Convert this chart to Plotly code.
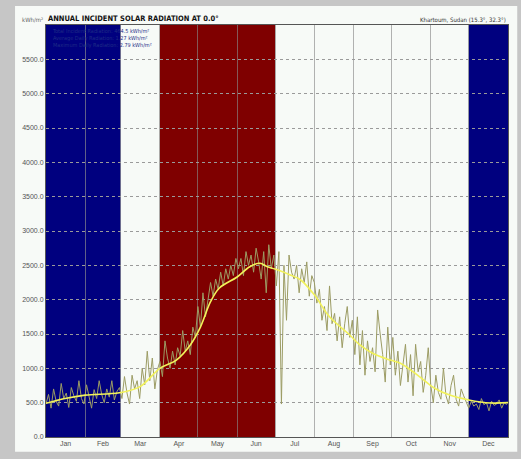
import numpy as np
import plotly.graph_objects as go

# month layout (day of year)
months = ['Jan', 'Feb', 'Mar', 'Apr', 'May', 'Jun', 'Jul', 'Aug', 'Sep', 'Oct', 'Nov', 'Dec']
month_edges = [0, 31, 59, 90, 120, 151, 181, 212, 243, 273, 304, 334, 365]
month_colors = ['#00007f', '#00007f', None, '#7f0000', '#7f0000', '#7f0000',
                None, None, None, None, None, '#00007f']

# daily incident radiation, read every 2nd day, one list per month
jan = [480, 620, 420, 700, 520, 450, 780, 560, 640, 430, 720, 600, 520, 820, 560, 480]
feb = [760, 600, 420, 690, 560, 820, 620, 500, 700, 580, 820, 540, 660, 720]
mar = [560, 880, 640, 480, 900, 700, 820, 560, 1000, 760, 1250, 820, 1150, 700, 980]
apr = [1100, 880, 1400, 1150, 1000, 1250, 1050, 1300, 1180, 1550, 1250, 1400, 1200, 1600, 1450]
may = [1900, 1600, 2100, 1750, 2000, 2250, 2050, 2300, 2150, 2400, 2200, 2450, 2300, 2500, 2350, 2600]
jun = [2450, 2600, 2350, 2700, 2500, 2650, 2400, 2750, 2550, 2300, 2700, 2100, 2800, 2450, 2650]
jul = [2200, 2700, 480, 2500, 1700, 2650, 2400, 2300, 2500, 2100, 2450, 2250, 2550, 2050, 2350]
aug = [2250, 1950, 2150, 1700, 1900, 1550, 2200, 1650, 1800, 1400, 1750, 1300, 1650, 1900, 1450, 1700]
sep = [1200, 1750, 1050, 1550, 900, 1400, 1100, 1300, 950, 1850, 1500, 1200, 800, 1600, 1050]
oct_ = [1450, 900, 1250, 750, 1100, 1350, 800, 1200, 600, 1350, 950, 1100, 650, 900, 1300]
nov = [750, 500, 900, 650, 550, 1000, 600, 480, 750, 900, 550, 450, 700, 600, 500, 420]
dec = [520, 450, 480, 400, 560, 470, 500, 380, 520, 460, 480, 540, 420, 500, 470]
daily = jan + feb + mar + apr + may + jun + jul + aug + sep + oct_ + nov + dec
daily_days = np.arange(0, 2 * len(daily), 2)

# smoothed average curve
avg_days = [0, 15, 31, 58, 74, 90, 103, 114, 122, 130, 137, 151, 161, 169, 175, 181,
            193, 201, 212, 224, 240, 248, 258, 272, 280, 295, 307, 319, 334, 351, 365]
avg_vals = [490, 560, 610, 645, 730, 1000, 1120, 1340, 1600, 1970, 2170, 2330, 2480, 2530, 2480, 2445,
            2360, 2290, 2070, 1750, 1485, 1340, 1220, 1120, 1075, 880, 710, 610, 540, 495, 500]

y_ticks = [0, 500, 1000, 1500, 2000, 2500, 3000, 3500, 4000, 4500, 5000, 5500]

NARROW = 'DejaVu Sans Condensed, Liberation Sans Narrow, Liberation Sans'

fig = go.Figure()

# outer frame panel
fig.add_shape(type='rect', xref='paper', yref='paper', x0=-0.067, x1=1.02, y0=-0.036, y1=1.046,
              fillcolor='#f7faf7', line=dict(width=0), layer='below')

for i, c in enumerate(month_colors):
    if c:
        fig.add_vrect(x0=month_edges[i], x1=month_edges[i + 1], fillcolor=c, opacity=1,
                      line_width=0, layer='below')

fig.add_trace(go.Scatter(x=daily_days, y=daily, mode='lines',
                         line=dict(color='#9c9c64', width=1), showlegend=False))
fig.add_trace(go.Scatter(x=avg_days, y=avg_vals, mode='lines', line_shape='spline',
                         line=dict(color='#f2f25a', width=1.6), showlegend=False))

mids = [(month_edges[i] + month_edges[i + 1]) / 2 for i in range(12)]
fig.update_xaxes(range=[0, 365], tickvals=mids, ticktext=months, showgrid=False,
                 ticks='', tickfont=dict(size=7, color='#555555'),
                 minor=dict(tickvals=month_edges[1:-1], showgrid=True,
                            gridcolor='rgba(128,128,128,0.6)', gridwidth=1),
                 showline=True, linecolor='#555555', linewidth=1, mirror=True, zeroline=False)
fig.update_yaxes(range=[0, 6000], tickvals=y_ticks, ticktext=[f'{v:.1f}' for v in y_ticks],
                 showgrid=True, gridcolor='#9a9a9a', griddash='dot', gridwidth=1,
                 tickfont=dict(size=7, color='#555555'), ticks='',
                 showline=True, linecolor='#555555', linewidth=1, mirror=True, zeroline=False)

fig.add_annotation(text='<b>ANNUAL INCIDENT SOLAR RADIATION AT 0.0°</b>', xref='paper', yref='paper',
                   x=0, y=1.0, xanchor='left', yanchor='bottom', showarrow=False,
                   font=dict(family=NARROW, size=7.5, color='#111111'))
fig.add_annotation(text='kWh/m²', xref='paper', yref='paper', x=-0.003, y=1.0, xanchor='right',
                   yanchor='bottom', showarrow=False, font=dict(family=NARROW, size=6, color='#666666'))
fig.add_annotation(text='Khartoum, Sudan (15.3°, 32.3°)', xref='paper', yref='paper', x=1.0, y=1.0,
                   xanchor='right', yanchor='bottom', showarrow=False,
                   font=dict(family=NARROW, size=6, color='#333333'))
fig.add_annotation(text='Total Incident Radiation: 464.5 kWh/m²<br>Average Daily Radiation: 1.27 kWh/m²'
                        '<br>Maximum Daily Radiation: 2.79 kWh/m²',
                   xref='paper', yref='paper', x=0.008, y=0.998, xanchor='left', yanchor='top',
                   align='left', showarrow=False,
                   font=dict(family=NARROW, size=5.5, color='#1e2c86'))

fig.update_layout(width=521, height=459, margin=dict(l=46, r=13, t=25, b=22),
                  paper_bgcolor='#c6c6c6', plot_bgcolor='#f7faf7',
                  font=dict(family='Liberation Sans, Arial', size=7))

fig.write_html('out.html', config={'displayModeBar': False},
               post_script="document.body.style.margin='0';")
